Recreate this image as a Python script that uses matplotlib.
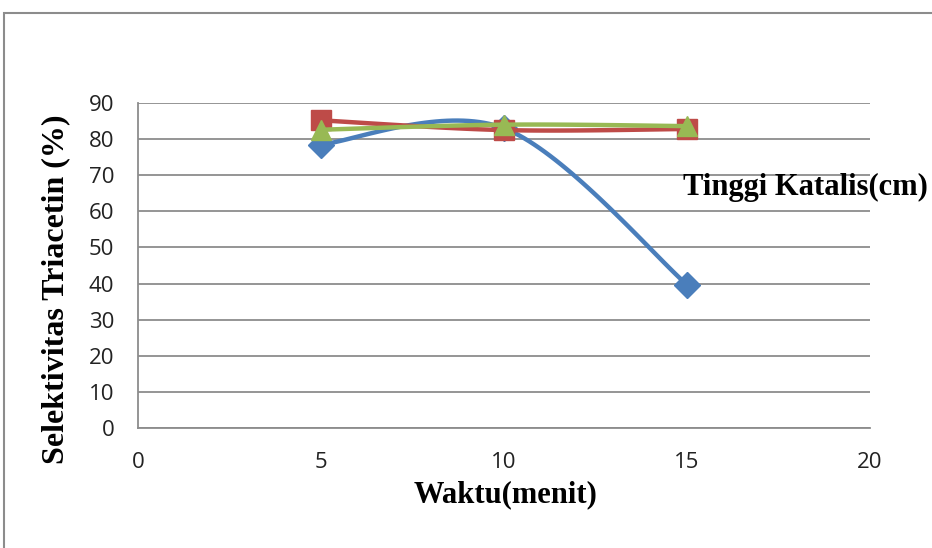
import numpy as np
import matplotlib.pyplot as plt
from matplotlib.patches import Rectangle

# data
waktu = [5, 10, 15]
seri_biru = [78.5, 83, 39.7]
seri_merah = [85.2, 82.5, 82.8]
seri_hijau = [82.6, 84.0, 83.6]

x_ticks = [0, 5, 10, 15, 20]
y_ticks = list(range(0, 91, 10))


def smooth(xs, ys, n=40):
    # kurva halus ala Excel (bezier dari titik-titik tetangga)
    px = [xs[0]] + list(xs) + [xs[-1]]
    py = [ys[0]] + list(ys) + [ys[-1]]
    out_x, out_y = [], []
    t = np.linspace(0, 1, n)
    for i in range(1, len(px) - 2):
        x0, y0 = px[i], py[i]
        x3, y3 = px[i + 1], py[i + 1]
        x1 = x0 + (px[i + 1] - px[i - 1]) / 6
        y1 = y0 + (py[i + 1] - py[i - 1]) / 6
        x2 = x3 - (px[i + 2] - px[i]) / 6
        y2 = y3 - (py[i + 2] - py[i]) / 6
        bx = (1-t)**3*x0 + 3*(1-t)**2*t*x1 + 3*(1-t)*t**2*x2 + t**3*x3
        by = (1-t)**3*y0 + 3*(1-t)**2*t*y1 + 3*(1-t)*t**2*y2 + t**3*y3
        out_x.extend(bx)
        out_y.extend(by)
    return out_x, out_y


fig = plt.figure(figsize=(9.32, 5.48), dpi=100)
ax = fig.add_axes([138/932, 1-428/548, (870-138)/932, (428-103)/548])

# bingkai luar
fig.patches.append(Rectangle((4/932, -0.1), 1.2, 1-13/548+0.1, transform=fig.transFigure,
                             fill=False, edgecolor='#8c8c8c', linewidth=1.5))

for ys, warna, mk, ms in [(seri_biru, '#4a7ebb', 'D', 13),
                          (seri_merah, '#be4b48', 's', 14),
                          (seri_hijau, '#98b954', '^', 15)]:
    sx, sy = smooth(waktu, ys)
    ax.plot(sx, sy, color=warna, linewidth=3.2, solid_capstyle='round')
    ax.plot(waktu, ys, linestyle='none', marker=mk, markersize=ms, color=warna)

ax.set_xlim(0, 20)
ax.set_ylim(0, 90)
ax.set_xticks(x_ticks)
ax.set_yticks(y_ticks)
ax.grid(axis='y', color='#8c8c8c', linewidth=1.3)
ax.set_axisbelow(True)
for s in ['top', 'right']:
    ax.spines[s].set_visible(False)
for s in ['left', 'bottom']:
    ax.spines[s].set_color('#8c8c8c')
    ax.spines[s].set_linewidth(1.3)
ax.tick_params(length=0, labelsize=16)
ax.tick_params(axis='x', pad=17)
ax.tick_params(axis='y', pad=17)
for lbl in ax.get_xticklabels() + ax.get_yticklabels():
    lbl.set_fontfamily('Open Sans')
    lbl.set_color('#222222')

fig.text(506/932, 1-502/548, 'Waktu(menit)', fontfamily='Liberation Serif',
         fontweight='bold', fontsize=22, va='baseline', ha='center')
fig.text(56/932, 1-289/548, 'Selektivitas Triacetin (%)', fontfamily='Liberation Serif',
         fontweight='bold', fontsize=23, va='center', ha='center', rotation=90)

fig.text(683/932, 1-195/548, 'Tinggi Katalis(cm)', fontfamily='Liberation Serif',
         fontweight='bold', fontsize=22, va='baseline', ha='left')

fig.savefig('out.png', dpi=100)
